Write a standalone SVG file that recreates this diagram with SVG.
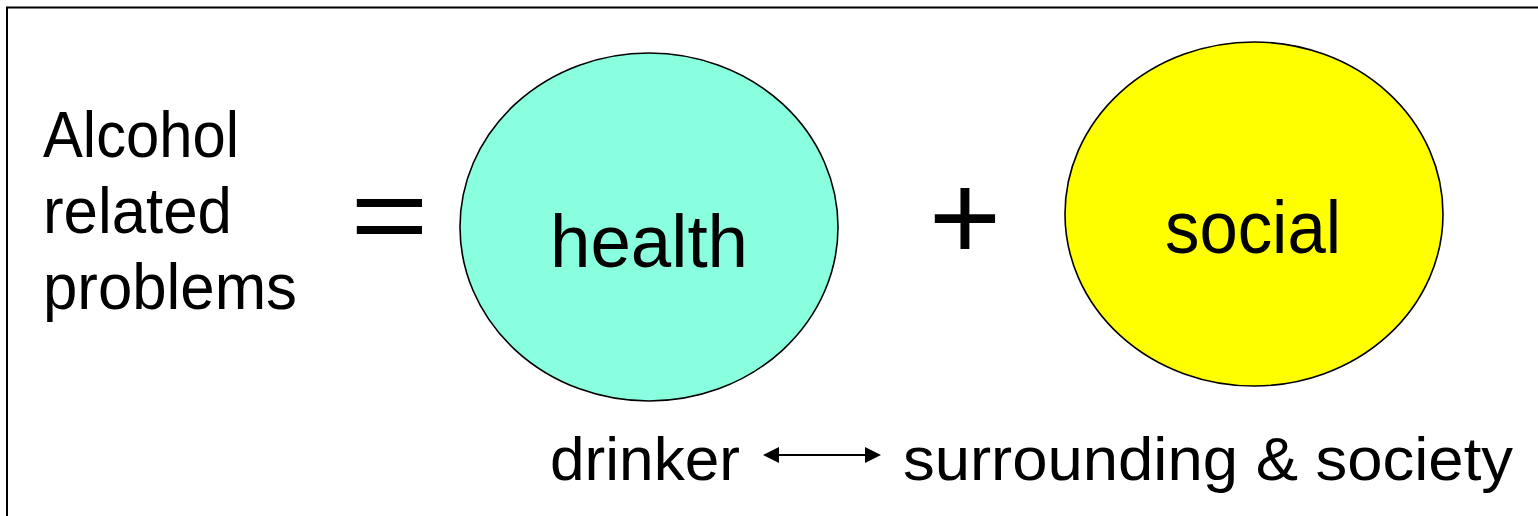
<svg xmlns="http://www.w3.org/2000/svg" width="1538" height="516" viewBox="0 0 1538 516">
  <style>
    .t { font-family: "Liberation Sans", Arial, sans-serif; fill: #000; }
    .big { font-size: 64px; }
    .node { font-size: 74px; }
    .low { font-size: 62px; }
    .op { font-size: 124px; }
    .eq { font-size: 110px; }
    .ell { stroke: #000; stroke-width: 1.6; }
  </style>
  <defs>
    <marker id="ah" viewBox="0 0 16 16" refX="0" refY="8" markerWidth="16" markerHeight="16" markerUnits="userSpaceOnUse" orient="auto-start-reverse">
      <polygon points="0,0 16,8 0,16" fill="#000"/>
    </marker>
  </defs>
  <rect width="1538" height="516" fill="#fff"/>
  <path d="M7,516 V7.5 H1538" fill="none" stroke="#000" stroke-width="2"/>

  <g id="label">
    <text class="t big" x="43" y="157" textLength="196" lengthAdjust="spacingAndGlyphs">Alcohol</text>
    <text class="t big" x="43" y="233" textLength="189" lengthAdjust="spacingAndGlyphs">related</text>
    <text class="t big" x="43" y="309" textLength="254" lengthAdjust="spacingAndGlyphs">problems</text>
  </g>
  <g id="equals">
    <text class="t eq" x="0" y="252" text-anchor="middle" transform="translate(389.5,0) scale(1.22,1)">=</text>
  </g>
  <g id="health">
    <ellipse class="ell" cx="649" cy="227" rx="189" ry="174" fill="#89FFDF"/>
    <text class="t node" x="550" y="267" textLength="198" lengthAdjust="spacingAndGlyphs">health</text>
  </g>
  <g id="plus">
    <text class="t op" x="965" y="260" text-anchor="middle">+</text>
  </g>
  <g id="social">
    <ellipse class="ell" cx="1254" cy="214" rx="189" ry="172" fill="#FFFF00"/>
    <text class="t node" x="1165" y="253" textLength="176" lengthAdjust="spacingAndGlyphs">social</text>
  </g>
  <g id="drinker">
    <text class="t low" x="550" y="480" textLength="190" lengthAdjust="spacingAndGlyphs">drinker</text>
  </g>
  <g id="surrounding">
    <text class="t low" x="903" y="480" textLength="610" lengthAdjust="spacingAndGlyphs">surrounding &amp; society</text>
  </g>
  <g id="connectors">
    <line x1="779" y1="455" x2="865" y2="455" stroke="#000" stroke-width="2" marker-start="url(#ah)" marker-end="url(#ah)"/>
  </g>
</svg>
